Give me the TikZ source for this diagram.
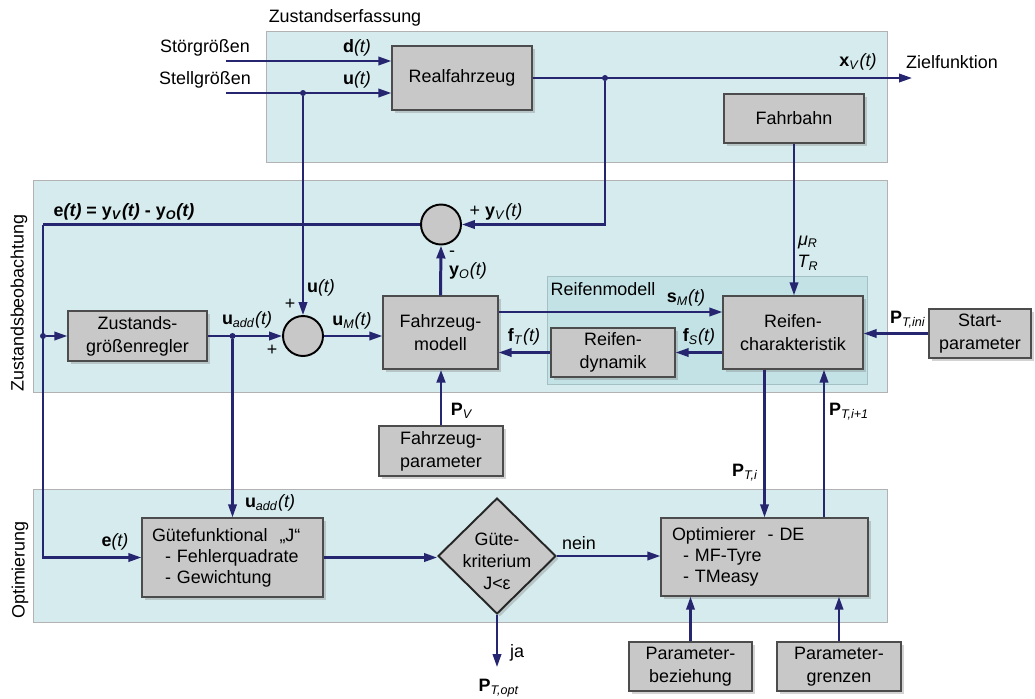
\documentclass[tikz,border=0pt]{standalone}
\usepackage{fontspec}
\setmainfont{Liberation Sans}
\usetikzlibrary{arrows.meta}
\usetikzlibrary{shapes.geometric}
\usetikzlibrary{shadows}
\usetikzlibrary{calc}

\definecolor{panelcol}{RGB}{214,235,238}
\definecolor{tyrecol}{RGB}{194,226,230}
\definecolor{boxcol}{RGB}{200,200,200}
\definecolor{sigcol}{RGB}{38,38,112}

\newcommand{\sigt}[2]{\textbf{#1}\textsubscript{\textit{#2}}\textit{(t)}}
\newcommand{\parP}[1]{\textbf{P}\textsubscript{\textit{#1}}}

\tikzset{
  every node/.style={font=\fontsize{10.2}{13}\selectfont},
  block/.style={draw=black!70, line width=0.8pt, fill=boxcol, align=center, inner sep=0pt,
    drop shadow={shadow xshift=1.6pt, shadow yshift=-1.6pt, opacity=0.35}},
  listbox/.style={block, align=left, font=\fontsize{10.2}{12}\selectfont},
  sumnode/.style={circle, draw=black, line width=1.1pt, fill=boxcol, minimum size=0.8cm, inner sep=0pt},
  sig/.style={draw=sigcol, line width=1.25pt, -{Triangle[length=0.26cm, width=0.17cm]}},
  sigline/.style={draw=sigcol, line width=1.25pt},
  branch/.style={circle, fill=sigcol, inner sep=0pt, minimum size=0.12cm},
  panel/.style={fill=panelcol, draw=black!30, line width=0.5pt}
}

\begin{document}
\begin{tikzpicture}[x=0.02cm, y=-0.02cm]
    \useasboundingbox (0,0) rectangle (1035,698);
    % panels
    \draw[panel] (266,31) rectangle (887,162);
    \draw[panel] (33,180) rectangle (887,392);
    \draw[panel] (33,489) rectangle (887,622);
    \draw[panel, fill=tyrecol, draw=tyrecol!85!black] (547,276) rectangle (867,384);
    \node (lzust) at (345,18) {Zustandserfassung};
    \node[rotate=90] (lbeob) at (19,303) {Zustandsbeobachtung};
    \node[rotate=90] (lopt) at (20,570) {Optimierung};
    \node (lreifen) at (603,289) {Reifenmodell};

    % blocks
    \node[block, minimum width=2.8cm, minimum height=1.28cm] (rf) at (462,78) {Realfahrzeug};
    \node[block, minimum width=2.8cm, minimum height=0.98cm] (fb) at (794,118.5) {Fahrbahn};
    \node[block, minimum width=2.78cm, minimum height=1.0cm] (zr) at (137.5,336) {Zustands-\\größenregler};
    \node[sumnode] (sum1) at (303,336) {};
    \node[sumnode] (sum2) at (441,224.5) {};
    \node[block, minimum width=2.3cm, minimum height=1.46cm] (fzm) at (440.5,332.5) {Fahrzeug-\\modell};
    \node[block, minimum width=2.8cm, minimum height=1.46cm] (rc) at (793,332.5) {Reifen-\\charakteristik};
    \node[block, minimum width=2.48cm, minimum height=0.98cm] (rd) at (613,352.5) {Reifen-\\dynamik};
    \node[block, minimum width=2.04cm, minimum height=0.98cm] (sp) at (980,333.5) {Start-\\parameter};
    \node[block, minimum width=2.48cm, minimum height=1.0cm] (fzp) at (441,451) {Fahrzeug-\\parameter};
    \node[listbox, minimum height=1.58cm, text width=3.22cm, inner xsep=0.2cm] (gf) at (232.5,557.5)
        {Gütefunktional\ \ „J“\\\hspace*{0.26cm}- Fehlerquadrate\\\hspace*{0.26cm}- Gewichtung};
    \node[block, diamond, aspect=1, minimum width=2.36cm, minimum height=2.32cm, draw=black!85, line width=1.1pt] (crit) at (497,556) {};
    \node[align=center, font=\fontsize{10.2}{12.5}\selectfont] (crittext) at (497,561) {Güte-\\kriterium\\J<ε};
    \node[listbox, minimum height=1.56cm, text width=3.70cm, inner xsep=0.22cm] (opt) at (764.5,557)
        {Optimierer\ \ - DE\\\hspace*{0.22cm}- MF-Tyre\\\hspace*{0.22cm}- TMeasy};
    \node[block, minimum width=2.46cm, minimum height=0.98cm] (pb) at (690.5,666.5) {Parameter-\\beziehung};
    \node[block, minimum width=2.48cm, minimum height=0.98cm] (pg) at (839,666.5) {Parameter-\\grenzen};

    % connectors
    \coordinate (stoer) at (226,61);
    \coordinate (stell) at (226,93);
    \draw[sig] (stoer) -- (stoer -| rf.west);
    \draw[sig] (stell) -- (stell -| rf.west);
    \node[branch] (ubr) at (stell -| sum1.north) {};
    \draw[sig] (ubr) -- (sum1.north);
    \coordinate (ziel) at (912,78);
    \draw[sig] (rf.east) -- (ziel);
    \node[branch] (xbr) at (605,78) {};
    \draw[sig] (xbr) |- (sum2.east);
    \coordinate (ecorner) at (43,224.5);
    \draw[sigline] (sum2.west) -- (ecorner);
    \draw[sig] (ecorner) |- (gf.west);
    \node[branch] (ebr) at (ecorner |- zr.west) {};
    \draw[sig] (ebr) -- (zr.west);
    \draw[sig] (zr.east) -- (sum1.west);
    \node[branch] (uaddbr) at (zr.east -| gf.north) {};
    \draw[sig] (uaddbr) -- (gf.north);
    \draw[sig] (sum1.east) -- (sum1.east -| fzm.west);
    \draw[sig, line width=1.7pt] (fzm.north) -- (sum2.south);
    \coordinate (smout) at ($(fzm.east)+(0,-20.5)$);
    \draw[sig] (smout) -- (smout -| rc.west);
    \draw[sig] (rc.west |- rd.east) -- (rd.east);
    \draw[sig] (rd.west) -- (rd.west -| fzm.east);
    \draw[sig] (fb.south) -- (fb.south |- rc.north);
    \draw[sig] (sp.west) -- (sp.west -| rc.east);
    \draw[sig] (rc.south -| opt.north) -- (opt.north);
    \coordinate (pnext) at ($(opt.north)+(59.5,0)$);
    \draw[sig] (pnext) -- (pnext |- rc.south);
    \draw[sig, line width=1.7pt] (fzp.north) -- (fzp.north |- fzm.south);
    \draw[sig] (gf.east) -- (gf.east -| crit.west);
    \draw[sig] (crit.east) -- (crit.east -| opt.west);
    \coordinate (popt) at (497,667);
    \draw[sig] (crit.south) -- (popt);
    \draw[sig] (pb.north) -- (pb.north |- opt.south);
    \draw[sig] (pg.north) -- (pg.north |- opt.south);

    % labels
    \node (lstoer) at (205,48) {Störgrößen};
    \node (lstell) at (205,80) {Stellgrößen};
    \node (ld) at (357,48) {\textbf{d}\textit{(t)}};
    \node (lu) at (357,80) {\textbf{u}\textit{(t)}};
    \node (lxv) at (858,62) {\sigt{x}{V}};
    \node (lziel) at (952,62) {Zielfunktion};
    \node (le) at (124,212) {\textbf{e\textit{(t)} = y\textsubscript{\textit{V}}\textit{(t)} - y\textsubscript{\textit{O}}\textit{(t)}}};
    \node (lyv) at (496,212) {+ \sigt{y}{V}};
    \node (lminus) at (452,254) {-};
    \node (lyo) at (468,271) {\sigt{y}{O}};
    \node (lu2) at (321,288) {\textbf{u}\textit{(t)}};
    \node (lplus1) at (290,304) {+};
    \node (lplus2) at (272,350) {+};
    \node (luadd) at (247,320) {\sigt{u}{add}};
    \node (lum) at (352,321) {\sigt{u}{M}};
    \node (lsm) at (686,298) {\sigt{s}{M}};
    \node (lfs) at (699,337) {\sigt{f}{S}};
    \node (lft) at (524,337) {\sigt{f}{T}};
    \node[align=center] (lmu) at (808,253) {\textit{μ\textsubscript{R}}\\\textit{T\textsubscript{R}}};
    \node (lpini) at (908,320) {\parP{T,ini}};
    \node (lpv) at (462,411) {\parP{V}};
    \node (lpi) at (745,473) {\parP{T,i}};
    \node (lpi1) at (849,412) {\parP{T,i+1}};
    \node (luadd2) at (270,503) {\sigt{u}{add}};
    \node (le2) at (115,542) {\textbf{e}\textit{(t)}};
    \node (lnein) at (579,543) {nein};
    \node (lja) at (517,653) {ja};
    \node (lpopt) at (499,688) {\parP{T,opt}};
\end{tikzpicture}
\end{document}
